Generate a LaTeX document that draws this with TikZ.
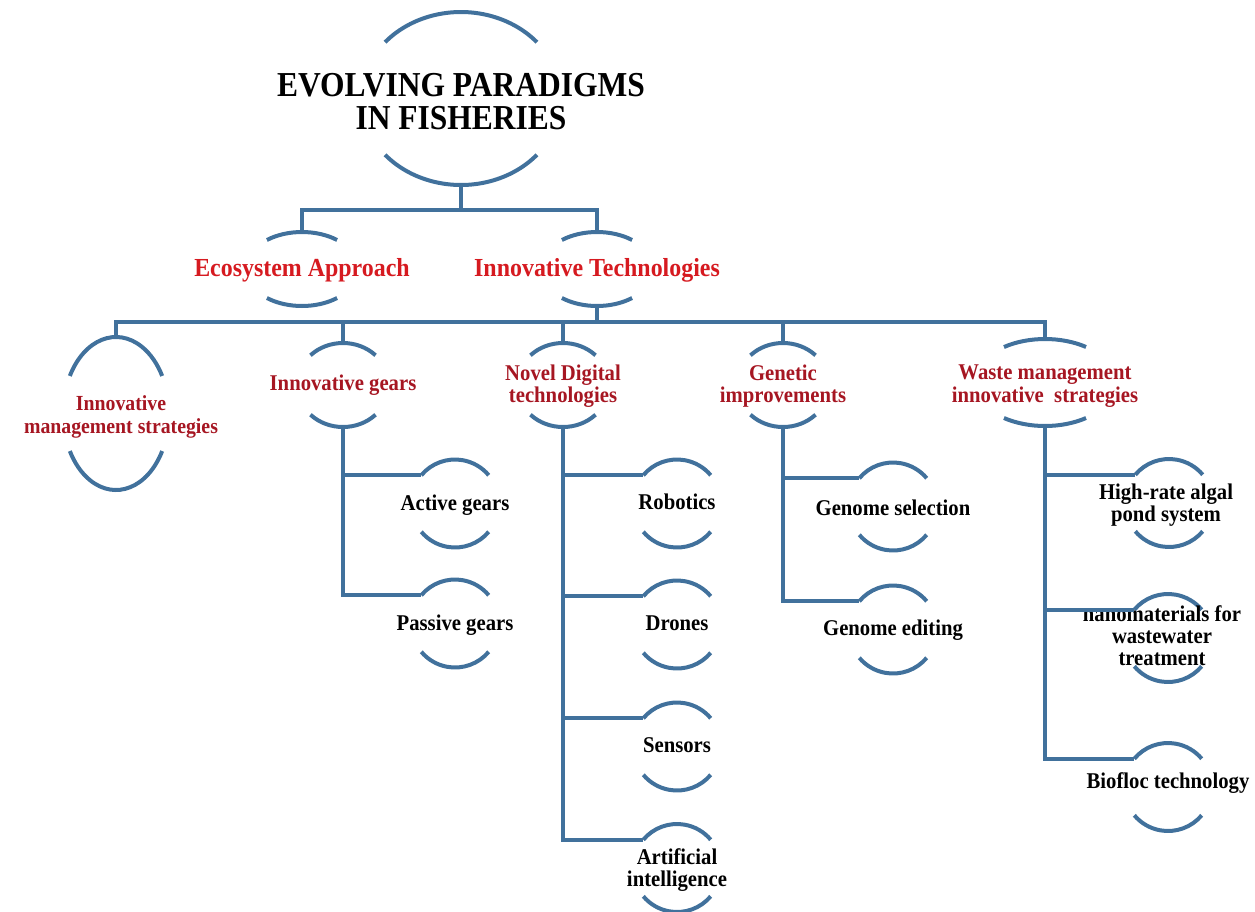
\documentclass[tikz,border=0pt]{standalone}
\usepackage{fontspec}
\setmainfont{Liberation Serif}[FakeStretch=0.92]
\newfontfamily\titlefont{Liberation Serif}[FakeStretch=0.9]
\usetikzlibrary{calc}
\definecolor{lineblue}{RGB}{65,113,156}
\definecolor{redA}{RGB}{214,26,32}
\definecolor{redB}{RGB}{166,22,34}
\tikzset{
  arcline/.style={draw=lineblue, line width=4pt},
  conn/.style={draw=lineblue, line width=4pt},
  titletext/.style={font=\titlefont\bfseries\fontsize{35}{33}\selectfont, align=center, inner sep=0pt},
  lvlone/.style={font=\bfseries\fontsize{26}{26}\selectfont, text=redA, align=center, inner sep=0pt},
  lvltwo/.style={font=\bfseries\fontsize{22.5}{22.5}\selectfont, text=redB, align=center, inner sep=0pt},
  lvlthree/.style={font=\bfseries\fontsize{22.5}{22}\selectfont, text=black, align=center, inner sep=0pt},
}
\newcommand{\bubble}[5]{%
  \coordinate (#1) at (#2);
  \draw[arcline] ($(#1)+({180+#5}:#3 and #4)$) arc[start angle={180+#5}, end angle={360-#5}, x radius=#3, y radius=#4];
  \draw[arcline] ($(#1)+(#5:#3 and #4)$) arc[start angle=#5, end angle={180-#5}, x radius=#3, y radius=#4];
  \coordinate (#1-t) at ($(#1)+(0,-#4)$);
  \coordinate (#1-b) at ($(#1)+(0,#4)$);
  \coordinate (#1-l) at ($(#1)+({180+#5}:#3 and #4)$);
}
\begin{document}
\begin{tikzpicture}[x=1pt,y=-1pt]
\useasboundingbox (0,0) rectangle (1255,911);

% level 0
\bubble{title}{461,98.5}{100}{86.5}{40.6}
\node[titletext] (titleT) at (461,102) {EVOLVING PARADIGMS\\IN FISHERIES};

% level 1
\bubble{eco}{302,269}{56.5}{37}{51.6}
\node[lvlone] (ecoT) at (302,270) {Ecosystem Approach};
\bubble{it}{597,269}{56.5}{37}{51.6}
\node[lvlone] (itT) at (597,270) {Innovative Technologies};

% level 2
\bubble{ims}{116,413.5}{53}{76.5}{29.4}
\node[lvltwo, font=\bfseries\fontsize{21.5}{23}\selectfont] (imsT) at (121,417) {Innovative\\management strategies};
\bubble{ig}{343,385}{46}{42}{45}
\node[lvltwo] (igT) at (343,385) {Innovative gears};
\bubble{nd}{563,385}{46}{42}{45}
\node[lvltwo] (ndT) at (563,386) {Novel Digital\\technologies};
\bubble{gi}{783,385}{46}{42}{45}
\node[lvltwo] (giT) at (783,386) {Genetic\\improvements};
\bubble{wm}{1045,382.5}{71}{43.5}{54.7}
\node[lvltwo] (wmT) at (1045,386) {Waste management\\innovative\ \ strategies};

% level 3
\bubble{ag}{455,503.5}{44}{44}{40}
\node[lvlthree] (agT) at (455,505) {Active gears};
\bubble{pg}{455,623.5}{44}{44}{40}
\node[lvlthree] (pgT) at (455,625) {Passive gears};
\bubble{rob}{677,503.5}{44}{44}{40}
\node[lvlthree] (robT) at (677,502) {Robotics};
\bubble{dro}{677,624.5}{44}{44}{40}
\node[lvlthree] (droT) at (677,623) {Drones};
\bubble{sen}{677,746.5}{44}{44}{40}
\node[lvlthree] (senT) at (677,745) {Sensors};
\bubble{ai}{677,868}{44}{44}{40}
\node[lvlthree] (aiT) at (677,870) {Artificial\\intelligence};
\bubble{gs}{893,506.5}{44}{44}{40}
\node[lvlthree] (gsT) at (893,508) {Genome selection};
\bubble{ge}{893,629.5}{44}{44}{40}
\node[lvlthree] (geT) at (893,630) {Genome editing};
\bubble{hr}{1169,503}{44}{44}{40}
\node[lvlthree] (hrT) at (1166,505) {High-rate algal\\pond system};
\bubble{nano}{1168,638}{44}{44}{40}
\node[lvlthree] (nanoT) at (1162,636) {nanomaterials for\\wastewater\\treatment};
\bubble{bio}{1168,787}{44}{44}{40}
\node[lvlthree] (bioT) at (1168,783) {Biofloc technology};

% connectors
\coordinate (tj) at (0,210);
\coordinate (hbar) at (0,322);
\draw[conn] (title-b) -- (title-b |- tj);
\draw[conn] (eco-t) |- (it-t |- tj) -- (it-t);
\draw[conn] (it-b) -- (it-b |- hbar);
\draw[conn] (ims-t) |- (wm-t |- hbar) -- (wm-t);
\draw[conn] (ig-t) -- (ig-t |- hbar);
\draw[conn] (nd-t) -- (nd-t |- hbar);
\draw[conn] (gi-t) -- (gi-t |- hbar);

\draw[conn] (ig-b) |- (pg-l);
\draw[conn] (ig-b |- ag-l) -- (ag-l);
\draw[conn] (nd-b) |- (ai-l);
\draw[conn] (nd-b |- rob-l) -- (rob-l);
\draw[conn] (nd-b |- dro-l) -- (dro-l);
\draw[conn] (nd-b |- sen-l) -- (sen-l);
\draw[conn] (gi-b) |- (ge-l);
\draw[conn] (gi-b |- gs-l) -- (gs-l);
\draw[conn] (wm-b) |- (bio-l);
\draw[conn] (wm-b |- hr-l) -- (hr-l);
\draw[conn] (wm-b |- nano-l) -- (nano-l);
\end{tikzpicture}
\end{document}
